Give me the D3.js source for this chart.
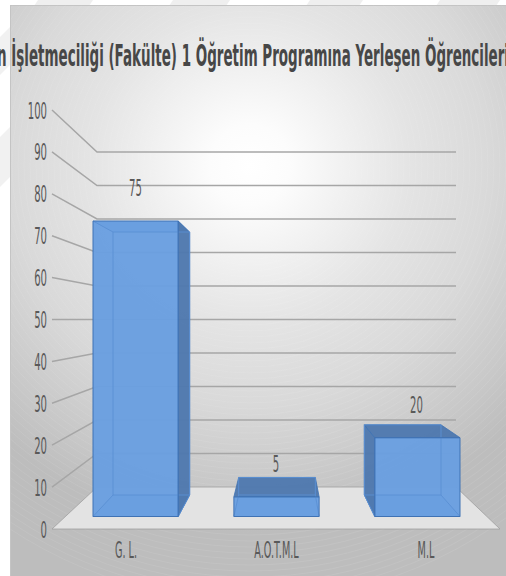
<!DOCTYPE html>
<html><head><meta charset="utf-8">
<script src="https://cdn.jsdelivr.net/npm/d3@7/dist/d3.min.js"></script>
<style>html,body{margin:0;padding:0;background:#fff;overflow:hidden}svg{display:block}</style>
</head><body><svg id="c" width="506" height="576"></svg>
<script>
const categories = ["G. L.", "A.O.T.M.L", "M.L"];
const values = [75, 5, 20];
const axisTicks = [0,10,20,30,40,50,60,70,80,90,100];
const titleText = "n İşletmeciliği (Fakülte) 1 Öğretim Programına Yerleşen Öğrencileri";

const svg = d3.select("#c");
const defs = svg.append("defs");
const grad = defs.append("radialGradient").attr("id","bg").attr("gradientUnits","userSpaceOnUse")
  .attr("cx",250).attr("cy",165).attr("r",400);
[[0,"#ffffff"],[0.1,"#fcfcfc"],[0.25,"#f0f0f0"],[0.4,"#e4e4e4"],[0.6,"#d9d9d9"],[0.8,"#c8c8c8"],[0.92,"#bdbdbd"],[1,"#bdbdbd"]]
  .forEach(([o,c])=>grad.append("stop").attr("offset",o).attr("stop-color",c));
defs.append("clipPath").attr("id","box").append("rect").attr("x",10.5).attr("y",5.5).attr("width",496).attr("height",571);

// faint page watermark, visible only in the margins around the chart box
const topBands=[[38,93],[173,230],[310,363],[440,500]];
const leftBands=[[27,75],[127,187]];
svg.selectAll("path.wt").data(topBands).join("path").attr("class","wt")
  .attr("d",d=>`M${d[0]},0L${d[1]},0L${d[1]-4},6L${d[0]-4},6Z`).attr("fill","#efefef");
svg.selectAll("path.wl").data(leftBands).join("path").attr("class","wl")
  .attr("d",d=>`M0,${d[0]+10}L10,${d[0]}L10,${d[1]-10}L0,${d[1]}Z`).attr("fill","#f1f1f1");

svg.append("rect").attr("x",10.5).attr("y",5.5).attr("width",500).attr("height",575)
  .attr("fill","url(#bg)").attr("stroke","#c4c4c4");

svg.append("g").attr("clip-path","url(#box)").attr("fill","none").selectAll("circle")
  .data(d3.range(70,440,6)).join("circle")
  .attr("cx",250).attr("cy",165).attr("r",r=>r)
  .attr("stroke","#fff").attr("stroke-width",0.6).attr("stroke-opacity",0.14);

const yFrontAxis = d3.scaleLinear().domain([0,100]).range([529,110]);
const yBackWall  = d3.scaleLinear().domain([0,100]).range([487,152]);
const barFrontY  = d3.scaleLinear().domain([0,75]).range([516.5,221]);
const barBackY   = d3.scaleLinear().domain([0,75]).range([495,232]);
const xFront = d3.scaleBand().domain(categories).range([93,460]).paddingInner(0.395);
const xBack  = d3.scaleBand().domain(categories).range([113,441]).paddingInner(0.39);
const axisX0=52, wallX0=97, wallX1=456, floorX1=500;

svg.append("path")
  .attr("d",d3.line()([[axisX0,yFrontAxis(0)],[wallX0,yBackWall(0)],[wallX1,yBackWall(0)],[floorX1,yFrontAxis(0)]])+"Z")
  .attr("fill","#e3e3e3").attr("stroke","#a0a0a0").attr("stroke-width",0.8);

const g = svg.append("g").attr("fill","none");
g.selectAll("path").data(axisTicks.slice(1)).join("path")
  .attr("d",v=>d3.line()([[axisX0,yFrontAxis(v)],[wallX0,yBackWall(v)],[wallX1,yBackWall(v)]]))
  .attr("stroke","#a6a6a6").attr("stroke-width",1.5);

function label(x,y,sx,size,weight,fill,txt,anchor){
  return svg.append("text").attr("transform",`translate(${x},${y}) scale(${sx},1)`)
   .attr("text-anchor",anchor||"middle").attr("font-family","DejaVu Sans")
   .attr("font-size",size).attr("font-weight",weight||"normal").attr("fill",fill).text(txt);
}

axisTicks.forEach(v=>label(47,yFrontAxis(v)+8.5,0.44,23,"normal","#595959",v,"end"));

const poly = d3.line();
const bars = svg.append("g");
categories.forEach((c,i)=>{
  const v=values[i];
  const fl=xFront(c), fr=fl+xFront.bandwidth(), bl=xBack(c), br=bl+xBack.bandwidth();
  const f0=barFrontY(0), f1=barFrontY(v), b0=barBackY(0), b1=barBackY(v);
  const dark="#4f79ae", mid="#6a9fe0", edge="#3f72b4", faint="#5a90d4";
  const face=(pts,fill,op,st,sw)=>bars.append("path").attr("d",poly(pts)+"Z").attr("fill",fill).attr("fill-opacity",op)
     .attr("stroke",st).attr("stroke-width",sw).attr("stroke-linejoin","round");
  const ln=(pts)=>bars.append("path").attr("d",poly(pts)).attr("fill","none").attr("stroke",faint).attr("stroke-width",0.9);
  face([[fl,f0],[fr,f0],[br,b0],[bl,b0]],mid,0.97,"none",0);
  face([[fl,f1],[fr,f1],[fr,f0],[fl,f0]],mid,0.97,"none",0);
  if (f1<b1) face([[fl,f1],[fr,f1],[br,b1],[bl,b1]],mid,0.97,"none",0);
  if (br>fr) face([[fr,f1],[br,b1],[br,b0],[fr,f0]],dark,0.97,edge,0.8);
  if (bl<fl) face([[fl,f1],[bl,b1],[bl,b0],[fl,f0]],dark,0.97,edge,0.8);
  if (f1>=b1) face([[bl,b1],[br,b1],[fr,f1],[fl,f1]],dark,0.97,edge,0.8);
  ln([[bl,b1],[br,b1]]); ln([[bl,b1],[bl,b0]]); ln([[br,b1],[br,b0]]); ln([[bl,b0],[br,b0]]);
  ln([[bl,b0],[fl,f0]]); ln([[br,b0],[fr,f0]]); if (f1<b1) ln([[bl,b1],[fl,f1]]);
  face([[fl,f1],[fr,f1],[fr,f0],[fl,f0]],"none",0,edge,1);
  label([135.5,276,416.5][i],[196,472,413][i],0.44,23,"normal","#595959",v);
  label([126,276.5,426][i],558,0.42,23,"normal","#595959",c);
});

const t = label(0,66,1,30,"bold","#474747",titleText);
const w = t.node().getComputedTextLength();
const sx = 512/w;
t.attr("transform",`translate(253,66) scale(${sx},1)`);
</script></body></html>
